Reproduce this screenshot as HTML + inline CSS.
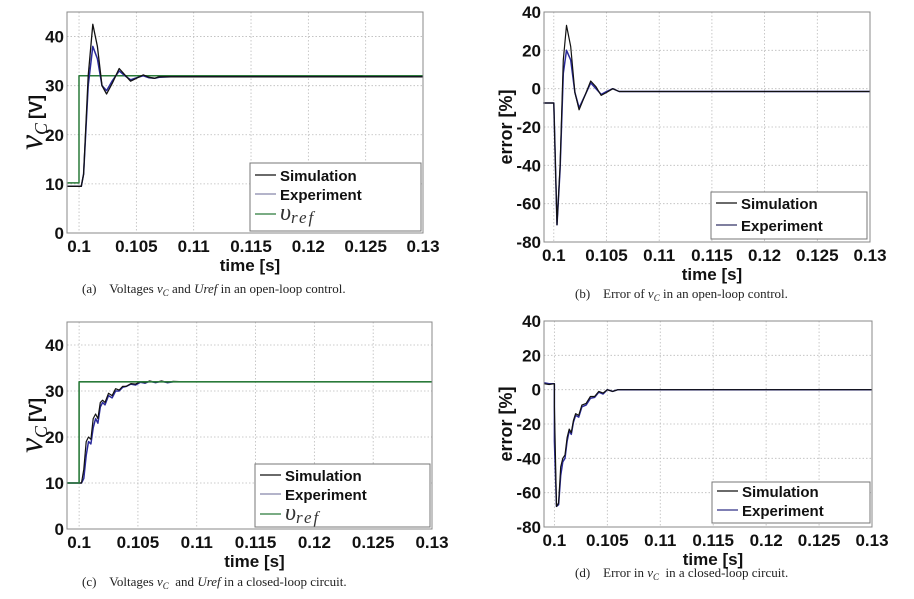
<!DOCTYPE html>
<html><head><meta charset="utf-8"><style>
html,body{margin:0;padding:0;background:#fff;}
svg{display:block;}
.tk{font-family:"Liberation Sans",Arial,sans-serif;font-weight:bold;font-size:17px;fill:#111;}
.lg{font-family:"Liberation Sans",Arial,sans-serif;font-weight:bold;font-size:15px;fill:#111;}
.cap{font-family:"Liberation Serif",serif;font-size:13px;fill:#222;}
</style></head><body>
<svg id="fig" width="914" height="599" viewBox="0 0 914 599" xmlns="http://www.w3.org/2000/svg"></svg>
<script>
// Panel (a) open-loop voltage
const tA=[0.099,0.1002,0.1004,0.1008,0.1012,0.1016,0.102,0.1024,0.1029,0.1035,0.104,0.1045,0.105,0.1056,0.1061,0.1066,0.107,0.108,0.13];
const simA=[9.5,9.5,12,32,42.5,38,30,28.3,30.5,33.5,32.2,30.9,31.5,32.2,31.7,31.5,31.8,31.8,31.8];
const expA=[9.5,9.5,12,30,38,35.5,30,29,31,33,32,31.2,31.6,32,31.6,31.5,31.7,31.8,31.8];
const tRef=[0.099,0.1,0.1,0.13];
const refA=[10.2,10.2,32,32];
// Panel (b) open-loop error
const tB=[0.099,0.1,0.1,0.1003,0.1006,0.1009,0.1012,0.1016,0.102,0.1024,0.103,0.1035,0.104,0.1045,0.105,0.1056,0.1062,0.107,0.13];
const simB=[-7.5,-7.5,-7.5,-71,-40,15,33,22,-2,-11,-3,4,1,-3.5,-2,0,-1.5,-1.5,-1.5];
const expB=[-7.5,-7.5,-7.5,-71,-42,8,20,15,-2,-10,-3,3,0,-3,-1.5,0,-1.5,-1.5,-1.5];
// Panel (c) closed-loop voltage
const tC=[0.099,0.1002,0.1004,0.1006,0.1008,0.101,0.1012,0.1014,0.1016,0.1018,0.102,0.1022,0.1025,0.1028,0.1031,0.1034,0.1037,0.104,0.1044,0.1048,0.1052,0.1056,0.106,0.1065,0.107,0.1075,0.108,0.109,0.11,0.112,0.115,0.13];
const simC=[10,10,13,19,20,19.5,24,25,24,27.5,28,27.5,29.5,29,30.5,30.2,31,31,31.6,31.5,32,31.8,32.2,31.9,32.2,31.9,32.1,32,32,32,32,32];
const expC=[10,10,11,16,19,18.5,22,24,23,26.5,27.5,27,29,28.5,30,30,30.8,31,31.5,31.3,31.9,31.7,32.1,31.8,32.1,31.8,32,32,32,32,32,32];
const refC=[10,10,32,32];
// Panel (d) closed-loop error
const tD=[0.099,0.0995,0.1,0.1,0.1002,0.1004,0.1006,0.1008,0.101,0.1012,0.1014,0.1016,0.1018,0.102,0.1023,0.1026,0.103,0.1034,0.1038,0.1042,0.1046,0.105,0.1055,0.106,0.107,0.108,0.11,0.13];
const simD=[3.5,3,3.5,-10,-68,-66,-45,-40,-38,-28,-23,-25,-18,-14,-15,-9,-8,-4,-4,-1,-2,0,-1,0,0,0,0,0];
const expD=[4,3.5,3.5,-30,-68,-67,-50,-42,-40,-30,-24,-26,-19,-15,-16,-10,-9,-5,-4.5,-1.5,-2.5,0,-1,0,0,0,0,0];
const xTicks=[0.1,0.105,0.11,0.115,0.12,0.125,0.13];
const xTickLabels=["0.1","0.105","0.11","0.115","0.12","0.125","0.13"];
const vTicks=[0,10,20,30,40];
const eTicks=[-80,-60,-40,-20,0,20,40];

const NS="http://www.w3.org/2000/svg";
const fig=document.getElementById('fig');
function mk(tag,attrs,parent,text){const e=document.createElementNS(NS,tag);for(const k in attrs)e.setAttribute(k,attrs[k]);if(text!==undefined)e.textContent=text;(parent||fig).appendChild(e);return e;}

function panel(p){
  const g=mk('g',{});
  
  
  const x=v=>p.x0+(v-p.xmin)/(p.xmax-p.xmin)*(p.x1-p.x0);
  const y=v=>p.y1-(v-p.ymin)/(p.ymax-p.ymin)*(p.y1-p.y0);
  mk('rect',{x:p.x0,y:p.y0,width:p.x1-p.x0,height:p.y1-p.y0,fill:'#fff',stroke:'none'},g);
  xTicks.forEach((t,i)=>{
    const gl=mk('line',{x1:x(t),x2:x(t),y1:p.y0,y2:p.y1,stroke:'#bbb','stroke-width':0.8,'stroke-dasharray':'1.5,2'},g);
    
    
    const tl=mk('text',{x:x(t),y:p.y1+19,'text-anchor':'middle',class:'tk'},g,xTickLabels[i]);
    
    
  });
  p.yt.forEach(v=>{
    const gl=mk('line',{x1:p.x0,x2:p.x1,y1:y(v),y2:y(v),stroke:'#bbb','stroke-width':0.8,'stroke-dasharray':'1.5,2'},g);
    
    
    const tl=mk('text',{x:p.x0-3,y:y(v)+6,'text-anchor':'end',class:'tk'},g,String(v));
    
    
  });
  p.series.forEach(s=>{
    const d=s.t.map((t,i)=>(i?'L':'M')+x(t).toFixed(1)+','+y(s.v[i]).toFixed(1)).join('');
    const pa=mk('path',{d:d,fill:'none',stroke:s.c,'stroke-width':s.w,'stroke-linejoin':'round'},g);
    
    
  });
  mk('rect',{x:p.x0,y:p.y0,width:p.x1-p.x0,height:p.y1-p.y0,fill:'none',stroke:'#888','stroke-width':1},g);
  const xl=mk('text',{x:(p.x0+p.x1)/2+5,y:p.y1+38,'text-anchor':'middle',class:'tk'},g,'time [s]');
  
  
  const yl=mk('text',{transform:`translate(${p.ylx},${(p.y0+p.y1)/2}) rotate(-90)`,'text-anchor':'middle'},g);
  
  
  if(p.volt){
    mk('tspan',{'font-family':'Liberation Serif,serif','font-style':'italic','font-size':'34px',fill:'#111'},yl,'v');
    mk('tspan',{'font-family':'Liberation Serif,serif','font-style':'italic','font-size':'18px',dy:'5',fill:'#111'},yl,'C');
    mk('tspan',{'font-family':'Liberation Sans,sans-serif','font-weight':'bold','font-size':'18px',dy:'-5',dx:'4',fill:'#111'},yl,'[V]');
  } else {
    mk('tspan',{'font-family':'Liberation Sans,sans-serif','font-weight':'bold','font-size':'18px',fill:'#111'},yl,'error [%]');
  }
  const L=p.leg;
  const lg=mk('g',{},g);
  
  
  mk('rect',{x:L.x,y:L.y,width:L.w,height:L.h,fill:'#fff',stroke:'#777','stroke-width':1},lg);
  L.items.forEach(it=>{
    const e=mk('g',{},lg);
    
    
    mk('line',{x1:L.x+5,x2:L.x+26,y1:it.y,y2:it.y,stroke:it.c,'stroke-width':1.2},e);
    if(it.ref){
      const t=mk('text',{x:L.x+30,y:it.y+6},e);
      mk('tspan',{'font-family':'Liberation Serif,serif','font-style':'italic','font-size':'24px',fill:'#333'},t,'υ');
      mk('tspan',{'font-family':'Liberation Serif,serif','font-style':'italic','font-size':'17px',dy:'3','letter-spacing':'2',fill:'#333'},t,'ref');
    } else mk('text',{x:L.x+30,y:it.y+6,class:'lg'},e,it.t);
  });
  const cp=mk('text',{x:p.capx,y:p.capy,class:'cap'},g);
  
  
  cp.innerHTML=p.cap;
}
const K='#111',B='#2a2a9a',G='#2a7a3a',Gr='#8888aa';
panel({name:'panel-a-open-loop-voltage',x0:67,x1:423,y0:12,y1:233,xmin:0.09895,xmax:0.13,ymin:0,ymax:45,yt:vTicks,volt:true,ylx:42,
  series:[{t:tRef,v:refA,c:G,w:1.5,n:'series-vref'},{t:tA,v:expA,c:B,w:1.5,n:'series-experiment'},{t:tA,v:simA,c:K,w:1.3,n:'series-simulation'}],
  leg:{x:250,y:163,w:171,h:68,items:[{y:175,c:K,t:'Simulation'},{y:194,c:Gr,t:'Experiment'},{y:214,c:G,ref:true}]},
  capx:82,capy:293,cap:'(a)&#160;&#160;&#160; Voltages <tspan font-style="italic">v<tspan font-size="9" dy="3">C</tspan></tspan><tspan dy="-3"> and </tspan><tspan font-style="italic">Uref</tspan> in an open-loop control.'});
panel({name:'panel-b-open-loop-error',x0:544,x1:870,y0:12,y1:242,xmin:0.09907,xmax:0.13,ymin:-80,ymax:40,yt:eTicks,volt:false,ylx:512,
  series:[{t:tB,v:expB,c:B,w:1.5,n:'series-experiment'},{t:tB,v:simB,c:K,w:1.2,n:'series-simulation'}],
  leg:{x:711,y:192,w:156,h:47,items:[{y:203,c:K,t:'Simulation'},{y:225,c:'#333366',t:'Experiment'}]},
  capx:575,capy:298,cap:'(b)&#160;&#160;&#160; Error of <tspan font-style="italic">v<tspan font-size="9" dy="3">C</tspan></tspan><tspan dy="-3"> in an open-loop control.</tspan>'});
panel({name:'panel-c-closed-loop-voltage',x0:67,x1:432,y0:322,y1:529,xmin:0.09897,xmax:0.13,ymin:0,ymax:45,yt:vTicks,volt:true,ylx:42,
  series:[{t:tC,v:expC,c:B,w:1.5,n:'series-experiment'},{t:tC,v:simC,c:K,w:1.2,n:'series-simulation'},{t:tRef,v:refC,c:G,w:1.6,n:'series-vref'}],
  leg:{x:255,y:464,w:175,h:63,items:[{y:475,c:K,t:'Simulation'},{y:494,c:Gr,t:'Experiment'},{y:514,c:G,ref:true}]},
  capx:82,capy:586,cap:'(c)&#160;&#160;&#160; Voltages <tspan font-style="italic">v<tspan font-size="9" dy="3">C</tspan></tspan><tspan dy="-3">&#160; and </tspan><tspan font-style="italic">Uref</tspan> in a closed-loop circuit.'});
panel({name:'panel-d-closed-loop-error',x0:544,x1:872,y0:321,y1:527,xmin:0.09902,xmax:0.13,ymin:-80,ymax:40,yt:eTicks,volt:false,ylx:512,
  series:[{t:tD,v:expD,c:B,w:1.5,n:'series-experiment'},{t:tD,v:simD,c:K,w:1.2,n:'series-simulation'}],
  leg:{x:712,y:482,w:158,h:41,items:[{y:491,c:K,t:'Simulation'},{y:510,c:'#333388',t:'Experiment'}]},
  capx:575,capy:577,cap:'(d)&#160;&#160;&#160; Error in <tspan font-style="italic">v<tspan font-size="9" dy="3">C</tspan></tspan><tspan dy="-3">&#160; in a closed-loop circuit.</tspan>'});
</script>
</body></html>
